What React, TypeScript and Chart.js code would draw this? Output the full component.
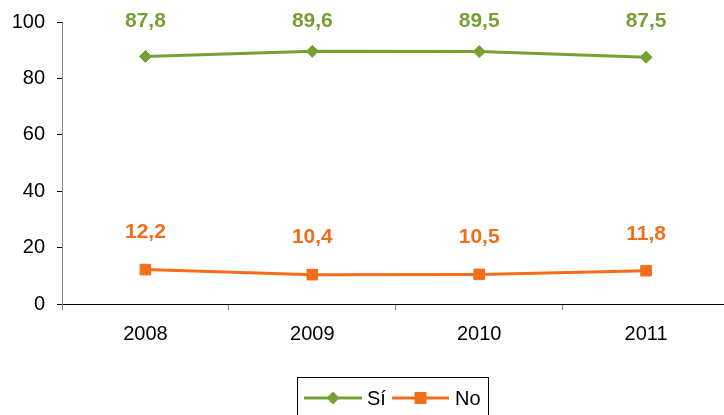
import React, { useEffect, useRef } from "react";
import { Chart, registerables } from "chart.js";

Chart.register(...registerables);

const years = ["2008", "2009", "2010", "2011"];
const siValues = [87.8, 89.6, 89.5, 87.5];
const noValues = [12.2, 10.4, 10.5, 11.8];
const seriesNames = ["Sí", "No"];
const yTicks = [0, 20, 40, 60, 80, 100];

const GREEN = "#77A034";
const ORANGE = "#F36E1B";
const FONT = "'Liberation Sans', Arial, sans-serif";

const fmt = (v: number) => v.toFixed(1).replace(".", ",");

const dataLabelsPlugin = {
  id: "dataLabels",
  afterDatasetsDraw(chart: any) {
    const ctx = chart.ctx;
    const top = chart.chartArea.top;
    ctx.save();
    ctx.font = `bold 21px ${FONT}`;
    ctx.textAlign = "center";
    ctx.textBaseline = "middle";
    chart.data.datasets.forEach((ds: any, i: number) => {
      const meta = chart.getDatasetMeta(i);
      ctx.fillStyle = ds.borderColor;
      meta.data.forEach((pt: any, j: number) => {
        const y = Math.max(pt.y - 37, top - 1);
        ctx.fillText(fmt(ds.data[j]), pt.x, y);
      });
    });
    ctx.restore();
  },
};

const legendPlugin = {
  id: "customLegend",
  afterDraw(chart: any) {
    const ctx = chart.ctx;
    const left = 297.5;
    const top = 377.5;
    const right = 488.5;
    ctx.save();
    ctx.strokeStyle = "#000";
    ctx.lineWidth = 1;
    ctx.strokeRect(left, top, right - left, 45);
    const cy = 398;
    ctx.font = `20px ${FONT}`;
    ctx.textBaseline = "middle";
    ctx.textAlign = "left";
    const items = [
      { x0: 304, x1: 362, tx: 367, color: GREEN, marker: "diamond" },
      { x0: 392, x1: 449, tx: 455, color: ORANGE, marker: "square" },
    ];
    items.forEach((it, i) => {
      ctx.strokeStyle = it.color;
      ctx.lineWidth = 3;
      ctx.beginPath();
      ctx.moveTo(it.x0, cy);
      ctx.lineTo(it.x1, cy);
      ctx.stroke();
      const mx = (it.x0 + it.x1) / 2;
      ctx.fillStyle = it.color;
      ctx.beginPath();
      if (it.marker === "diamond") {
        ctx.moveTo(mx - 6.5, cy);
        ctx.lineTo(mx, cy - 6.5);
        ctx.lineTo(mx + 6.5, cy);
        ctx.lineTo(mx, cy + 6.5);
        ctx.closePath();
      } else {
        ctx.rect(mx - 6, cy - 6, 12, 12);
      }
      ctx.fill();
      ctx.fillStyle = "#000";
      ctx.fillText(seriesNames[i], it.tx, cy + 1);
    });
    ctx.restore();
  },
};

export default function App() {
  const ref = useRef<HTMLCanvasElement>(null);
  useEffect(() => {
    if (!ref.current) return;
    const chart = new Chart(ref.current, {
      type: "line",
      data: {
        labels: years,
        datasets: [
          {
            label: seriesNames[0],
            data: siValues,
            borderColor: GREEN,
            backgroundColor: GREEN,
            borderWidth: 3,
            pointStyle: "rectRot",
            pointRadius: 6,
            pointBorderWidth: 1,
            tension: 0,
          },
          {
            label: seriesNames[1],
            data: noValues,
            borderColor: ORANGE,
            backgroundColor: ORANGE,
            borderWidth: 3,
            pointStyle: "rect",
            pointRadius: 7.5,
            pointBorderWidth: 1,
            tension: 0,
          },
        ],
      },
      options: {
        animation: false,
        responsive: false,
        layout: { padding: { top: 22, right: 2, left: 0, bottom: 0 } },
        plugins: { legend: { display: false }, tooltip: { enabled: false } },
        scales: {
          x: {
            type: "category",
            offset: true,
            grid: {
              offset: true,
              drawOnChartArea: false,
              drawTicks: true,
              tickLength: 6,
              tickColor: "#868686",
            },
            border: { display: true, color: "#000", width: 1 },
            ticks: { color: "#000", font: { family: FONT, size: 20 }, padding: 12, maxRotation: 0 },
            afterFit: (s: any) => {
              s.height = 111;
              s.paddingLeft = 0;
              s.paddingRight = 0;
            },
          },
          y: {
            min: 0,
            max: 100,
            afterBuildTicks: (s: any) => {
              s.ticks = yTicks.map((v) => ({ value: v }));
            },
            grid: {
              drawOnChartArea: false,
              drawTicks: true,
              tickLength: 5,
              tickColor: "#000",
            },
            border: { display: true, color: "#868686", width: 1 },
            ticks: { color: "#000", font: { family: FONT, size: 20 }, padding: 12 },
            afterFit: (s: any) => {
              s.width = 62;
              s.paddingTop = 0;
              s.paddingBottom = 0;
            },
          },
        },
      },
      plugins: [dataLabelsPlugin, legendPlugin],
    } as any);
    return () => chart.destroy();
  }, []);
  return (
    <div style={{ position: "fixed", left: 0, top: 0, width: 724, height: 415, overflow: "hidden", background: "#fff" }}>
      <canvas ref={ref} width={738} height={415} style={{ display: "block" }} />
    </div>
  );
}
